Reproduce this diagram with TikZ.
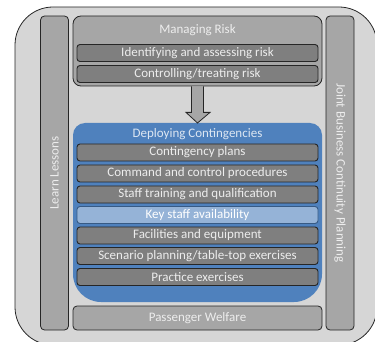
\documentclass[tikz,border=0pt]{standalone}
\usepackage{fontspec}
\setmainfont{Carlito}
\usetikzlibrary{calc}
\definecolor{outerfill}{HTML}{D6D6D6}
\definecolor{midgray}{HTML}{A6A6A6}
\definecolor{darkgray}{HTML}{7F7F7F}
\definecolor{edge}{HTML}{262626}
\definecolor{blueb}{HTML}{4F81BD}
\definecolor{lightb}{HTML}{95B3D7}
\definecolor{txtlight}{HTML}{EDEDED}
\definecolor{txtblue}{HTML}{DCE6F2}
\tikzset{
  x=1pt, y=1pt,
  lbl/.style={font=\fontsize{13}{15}\selectfont},
  sidebar/.style={draw=edge, line width=0.8pt, fill=midgray, rounded corners=4pt,
    minimum width=28pt, minimum height=314pt, inner sep=0pt, text=txtlight, lbl},
  groupbox/.style={draw=edge, line width=0.8pt, fill=midgray, rounded corners=8pt,
    minimum width=249pt, inner sep=0pt, text=txtlight, lbl},
  itembar/.style={draw=edge, line width=0.9pt, fill=darkgray, rounded corners=3pt,
    minimum width=241pt, minimum height=17pt, inner sep=0pt, text=txtlight, lbl},
  keybar/.style={itembar, fill=lightb, draw=blueb!70!black, text=white},
  titletext/.style={inner sep=0pt, lbl},
}
\begin{document}
\begin{tikzpicture}
\useasboundingbox (0,0) rectangle (375,-342);
\begin{scope}
\clip (0,0) rectangle (375,-342);
\draw[edge, line width=0.8pt, fill=outerfill, rounded corners=38pt] (15,-7) rectangle (377,-345);
\end{scope}

% side bars
\node[sidebar] (ll) at (54.5,-173) {};
\node[rotate=90, text=txtlight, lbl, inner sep=0pt] (lltxt) at (ll.center) {Learn Lessons};
\node[sidebar] (jb) at (340,-173) {};
\node[rotate=-90, text=txtlight, lbl, inner sep=0pt] (jbtxt) at (jb.center) {Joint Business Continuity Planning};

% managing risk
\node[groupbox, minimum height=70pt] (mr) at (197.5,-51) {};
\node[titletext, text=txtlight] (mrt) at (197.5,-30) {Managing Risk};
\node[itembar] (ia) at (197.5,-53) {Identifying and assessing risk};
\node[itembar] (ct) at (197.5,-74) {Controlling/treating risk};

% deploying contingencies box
\fill[blueb] (73,-135) arc[start angle=180, end angle=90, radius=12] -- (310,-123)
  arc[start angle=90, end angle=0, radius=12] -- (322,-274)
  arc[start angle=0, end angle=-90, radius=28] -- (101,-302)
  arc[start angle=-90, end angle=-180, radius=28] -- cycle;
\node[titletext, text=txtblue] (dct) at (197.5,-134) {Deploying Contingencies};
\coordinate (dc) at (197.5,-123);

% arrow connector
\draw[edge, line width=0.8pt, fill=midgray]
  ($(mr.south)+(-6,0)$) -- ($(mr.south)+(-6,-26)$) -- ($(mr.south)+(-11.5,-26)$)
  -- (dc) -- ($(mr.south)+(12.5,-26)$) -- ($(mr.south)+(6,-26)$) -- ($(mr.south)+(6,0)$);

\node[itembar] (cp) at (197.5,-152.5) {Contingency plans};
\node[itembar] (cc) at (197.5,-173.5) {Command and control procedures};
\node[itembar] (st) at (197.5,-194.5) {Staff training and qualification};
\node[keybar] (ks) at (197.5,-215) {Key staff availability};
\node[itembar] (fe) at (197.5,-235.5) {Facilities and equipment};
\node[itembar] (sp) at (197.5,-256) {Scenario planning/table-top exercises};
\node[itembar] (pe) at (197.5,-277) {Practice exercises};

% passenger welfare
\node[groupbox, minimum height=24pt, rounded corners=4pt] (pw) at (197.5,-318) {Passenger Welfare};
\end{tikzpicture}
\end{document}
